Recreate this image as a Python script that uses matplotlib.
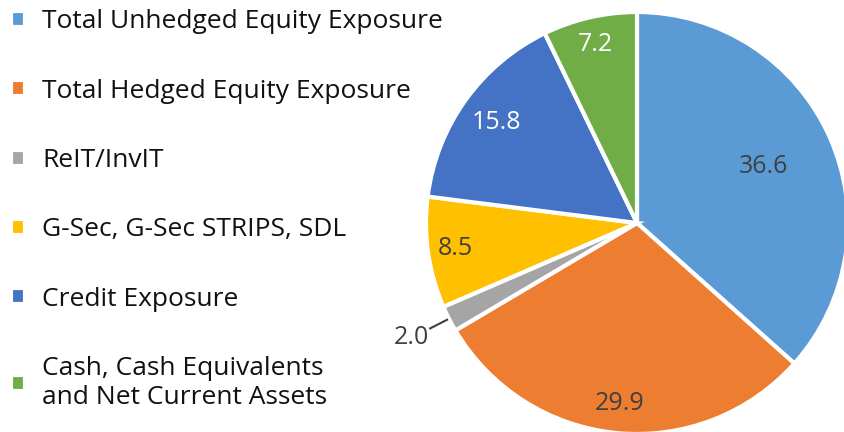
import numpy as np
import matplotlib.pyplot as plt

plt.rcParams['font.family'] = ['Open Sans', 'DejaVu Sans']

labels = [
    "Total Unhedged Equity Exposure",
    "Total Hedged Equity Exposure",
    "ReIT/InvIT",
    "G-Sec, G-Sec STRIPS, SDL",
    "Credit Exposure",
    "Cash, Cash Equivalents\nand Net Current Assets",
]
values = [36.6, 29.9, 2.0, 8.5, 15.8, 7.2]
colors = ["#5B9BD5", "#ED7D31", "#A5A5A5", "#FFC000", "#4472C4", "#70AD47"]
text_colors = ["#404040", "#404040", "#404040", "#404040", "white", "white"]
label_radius = [0.66, 0.86, 1.2, 0.87, 0.82, 0.87]

fig = plt.figure(figsize=(8.44, 4.32), dpi=100)
ax = fig.add_axes([426 / 844, -2 / 432, 422 / 844, 422 / 432])

wedges, _ = ax.pie(values, colors=colors, startangle=90, counterclock=False,
                   radius=1.0, wedgeprops=dict(edgecolor="white", linewidth=3))
ax.set_xlim(-1, 1)
ax.set_ylim(-1, 1)
ax.set_aspect("equal")
ax.axis("off")

for w, v, r, tc in zip(wedges, values, label_radius, text_colors):
    ang = np.deg2rad((w.theta1 + w.theta2) / 2)
    x, y = r * np.cos(ang), r * np.sin(ang)
    ax.text(x, y, f"{v:.1f}", ha="center", va="center", fontsize=18, color=tc)
    if r > 1:
        ax.plot([1.01 * np.cos(ang), 1.1 * np.cos(ang)],
                [1.01 * np.sin(ang), 1.1 * np.sin(ang)],
                color="#404040", linewidth=1.5, clip_on=False)

leg = fig.legend(wedges, labels, loc="upper left", bbox_to_anchor=(-0.006, 1.015),
                 frameon=False, fontsize=19, handlelength=0.55, handleheight=0.55,
                 handletextpad=0.65, labelspacing=1.68, borderaxespad=0.2)
for t in leg.get_texts():
    t.set_color("#111111")

fig.savefig("out.png", dpi=100)
